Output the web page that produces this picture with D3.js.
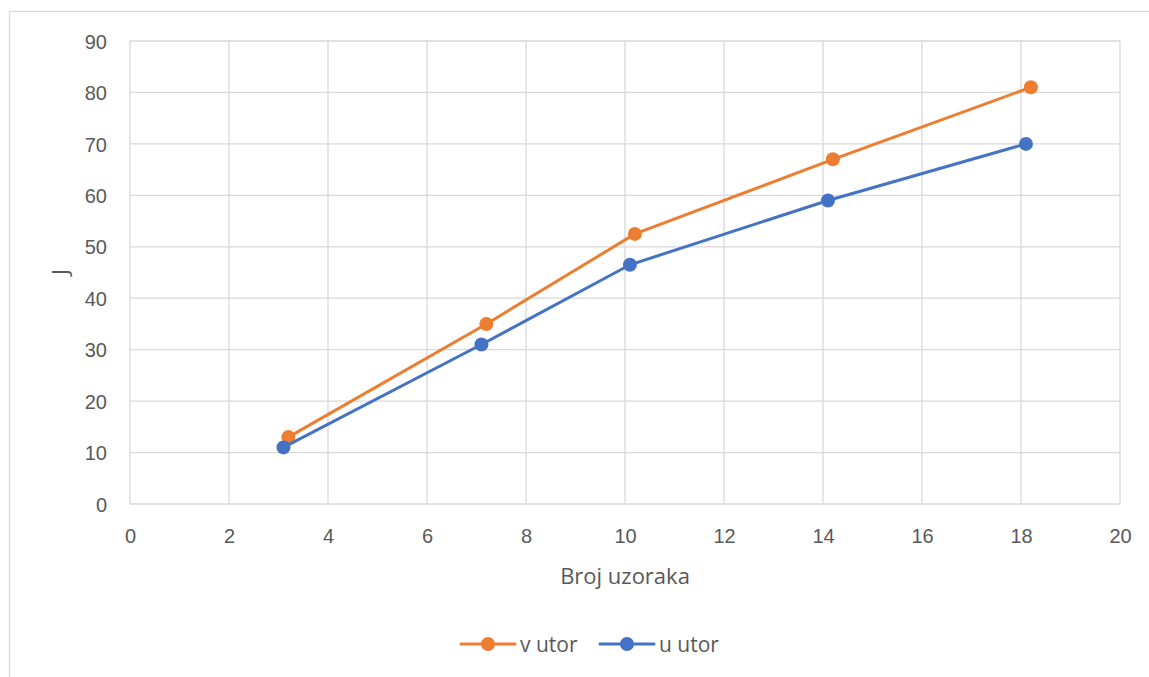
<!DOCTYPE html>
<html><head><meta charset="utf-8">
<script src="https://cdn.jsdelivr.net/npm/d3@7"></script>
<style>body{margin:0;background:#fff;} svg{display:block;font-family:"Open Sans","Noto Sans",sans-serif;}</style>
</head><body>
<svg id="c" width="1149" height="677"></svg>
<script>
const seriesNames = ["v utor", "u utor"];
const seriesColors = ["#ED7D31", "#4472C4"];
const vUtorX = [3.2, 7.2, 10.2, 14.2, 18.2];
const vUtorY = [13, 35, 52.5, 67, 81];
const uUtorX = [3.1, 7.1, 10.1, 14.1, 18.1];
const uUtorY = [11, 31, 46.5, 59, 70];
const xTicks = [0, 2, 4, 6, 8, 10, 12, 14, 16, 18, 20];
const yTicks = [0, 10, 20, 30, 40, 50, 60, 70, 80, 90];
const xTitle = "Broj uzoraka";
const yTitle = "J";

const svg = d3.select("#c");
svg.append("rect").attr("x", 9.5).attr("y", 11.5).attr("width", 1160).attr("height", 700)
  .attr("fill", "#fff").attr("stroke", "#d9d9d9").attr("stroke-width", 1.2);

const x = d3.scaleLinear().domain([0, 20]).range([130, 1120]);
const y = d3.scaleLinear().domain([0, 90]).range([504, 41]);

const g = svg.append("g");
g.selectAll(".vg").data(xTicks).join("line")
  .attr("x1", d => x(d)).attr("x2", d => x(d)).attr("y1", y(0)).attr("y2", y(90))
  .attr("stroke", "#d9d9d9").attr("stroke-width", 1.3);
g.selectAll(".hg").data(yTicks).join("line")
  .attr("x1", x(0)).attr("x2", x(20)).attr("y1", d => y(d)).attr("y2", d => y(d))
  .attr("stroke", "#d9d9d9").attr("stroke-width", 1.3);

const xAxis = svg.append("g").attr("transform", `translate(0,${y(0)})`)
  .call(d3.axisBottom(x).tickValues(xTicks).tickSize(0));
xAxis.select(".domain").remove();
xAxis.selectAll("text").attr("fill", "#595959").style("font-size", "20px")
  .attr("y", 32).attr("dy", "0.36em");

const yAxis = svg.append("g").attr("transform", `translate(${x(0)},0)`)
  .call(d3.axisLeft(y).tickValues(yTicks).tickSize(0).tickPadding(23));
yAxis.select(".domain").remove();
yAxis.selectAll("text").attr("fill", "#595959").style("font-size", "20px").attr("dy", "0.36em");

svg.append("text").attr("x", 625).attr("y", 576).attr("dy", "0.36em").attr("text-anchor", "middle")
  .attr("fill", "#595959").style("font-size", "22px").text(xTitle);
svg.append("text").attr("transform", "translate(60,272) rotate(-90)").attr("dy", "0.36em").attr("text-anchor", "middle")
  .attr("fill", "#595959").style("font-size", "22px").text(yTitle);

const data = [
  vUtorX.map((d, i) => [d, vUtorY[i]]),
  uUtorX.map((d, i) => [d, uUtorY[i]])
];
const line = d3.line().x(d => x(d[0])).y(d => y(d[1]));
data.forEach((pts, k) => {
  svg.append("path").datum(pts).attr("d", line).attr("fill", "none")
    .attr("stroke", seriesColors[k]).attr("stroke-width", 3).attr("stroke-linecap", "round");
  svg.selectAll(".m" + k).data(pts).join("circle")
    .attr("cx", d => x(d[0])).attr("cy", d => y(d[1])).attr("r", 7)
    .attr("fill", seriesColors[k]);
});

const legendX = [461, 600];
seriesNames.forEach((n, k) => {
  const lg = svg.append("g").attr("transform", `translate(${legendX[k]},644)`);
  lg.append("line").attr("x1", 0).attr("x2", 54).attr("stroke", seriesColors[k])
    .attr("stroke-width", 3).attr("stroke-linecap", "round");
  lg.append("circle").attr("cx", 27).attr("r", 7).attr("fill", seriesColors[k]);
  lg.append("text").attr("x", 59).attr("dy", "0.36em").attr("fill", "#595959")
    .style("font-size", "21px").text(n);
});
</script>
</body></html>
